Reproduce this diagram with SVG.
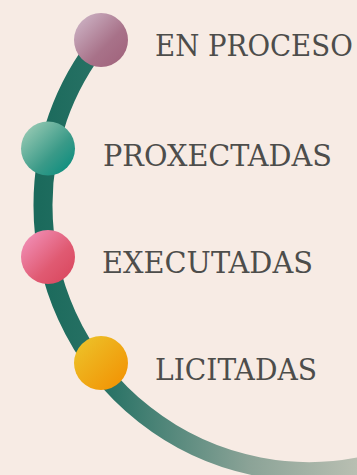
<svg xmlns="http://www.w3.org/2000/svg" width="357" height="475" viewBox="0 0 357 475">
  <style>
    .lbl { font-family: "DejaVu Serif", "Liberation Serif", serif; font-size: 30px; fill: #4d4d4b; }
  </style>
  <defs>
    <linearGradient id="arcG" gradientUnits="userSpaceOnUse" x1="40" y1="0" x2="357" y2="0">
      <stop offset="0" stop-color="#1b6a5c"/>
      <stop offset="0.22" stop-color="#2a7366"/>
      <stop offset="0.66" stop-color="#8ba397"/>
      <stop offset="1" stop-color="#b9bfb2"/>
    </linearGradient>
    <linearGradient id="g1" x1="0" y1="0" x2="1" y2="1">
      <stop offset="0" stop-color="#d2bccd"/>
      <stop offset="0.6" stop-color="#a87289"/>
      <stop offset="1" stop-color="#9f6079"/>
    </linearGradient>
    <linearGradient id="g2" x1="0" y1="0" x2="1" y2="1">
      <stop offset="0" stop-color="#a8d2bb"/>
      <stop offset="0.6" stop-color="#3a9a88"/>
      <stop offset="1" stop-color="#008a7c"/>
    </linearGradient>
    <linearGradient id="g3" x1="0" y1="0" x2="1" y2="1">
      <stop offset="0" stop-color="#f497c1"/>
      <stop offset="0.6" stop-color="#e05a72"/>
      <stop offset="1" stop-color="#d8435a"/>
    </linearGradient>
    <linearGradient id="g4" x1="0" y1="0" x2="1" y2="1">
      <stop offset="0" stop-color="#ecc62c"/>
      <stop offset="0.6" stop-color="#f0a412"/>
      <stop offset="1" stop-color="#f38f00"/>
    </linearGradient>
  </defs>
  <rect width="357" height="475" fill="#f7ebe4"/>
  <g id="connectors">
    <path d="M101,40 A262,262 0 0 0 43,205 A266,266 0 0 0 372,464" fill="none" stroke="url(#arcG)" stroke-width="19"/>
  </g>
  <g id="node-en-proceso">
    <circle cx="101" cy="40" r="27" fill="url(#g1)"/>
    <text class="lbl" transform="translate(155,56) scale(0.92,1)" x="0" y="0">EN PROCESO</text>
  </g>
  <g id="node-proxectadas">
    <circle cx="48" cy="148.5" r="27" fill="url(#g2)"/>
    <text class="lbl" x="103" y="166" textLength="229" lengthAdjust="spacingAndGlyphs">PROXECTADAS</text>
  </g>
  <g id="node-executadas">
    <circle cx="48" cy="257" r="27" fill="url(#g3)"/>
    <text class="lbl" x="102" y="273" textLength="211" lengthAdjust="spacingAndGlyphs">EXECUTADAS</text>
  </g>
  <g id="node-licitadas">
    <circle cx="101" cy="363" r="27" fill="url(#g4)"/>
    <text class="lbl" x="155" y="380" textLength="162" lengthAdjust="spacingAndGlyphs">LICITADAS</text>
  </g>
</svg>
